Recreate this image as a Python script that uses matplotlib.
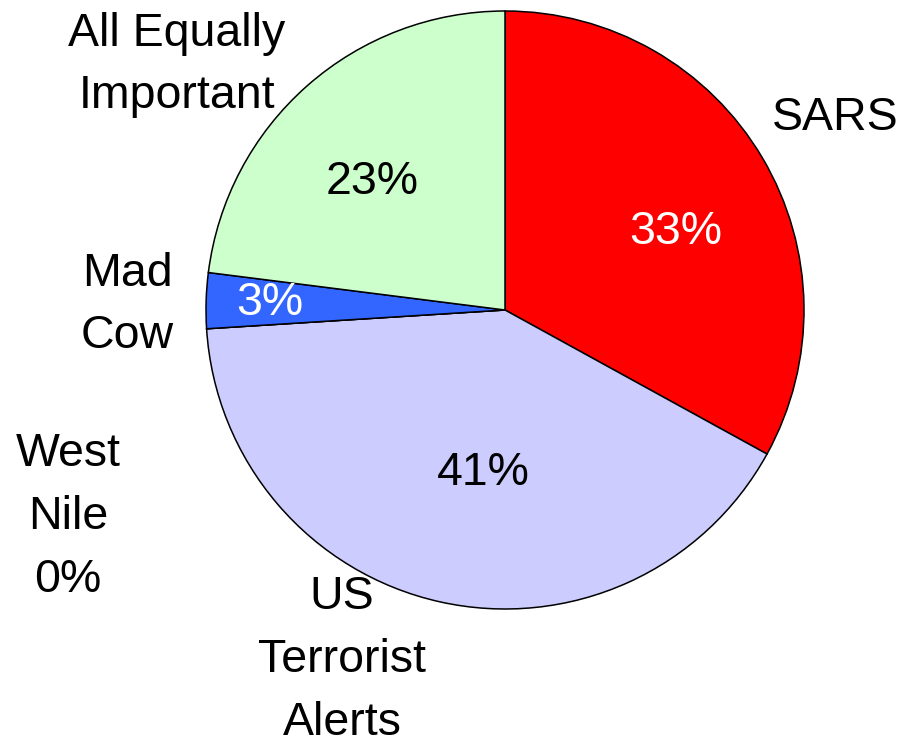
import matplotlib.pyplot as plt

plt.rcParams['font.family'] = ['Liberation Sans', 'DejaVu Sans']

# data
categories = ['SARS', 'US\nTerrorist\nAlerts', 'West\nNile', 'Mad\nCow', 'All Equally\nImportant']
shares = [33, 41, 0, 3, 23]
colors = ['#FF0000', '#CCCCFF', '#9999FF', '#3366FF', '#CCFFCC']
pct_colors = ['white', 'black', 'black', 'white', 'black']

# text placement (pie radius = 1, centre at 0,0)
name_pos = [(1.104, 0.642), (-0.545, -1.171), (-1.462, -0.692), (-1.264, 0.017), (-1.097, 0.819)]
pct_pos = [(0.572, 0.261), (-0.074, -0.545), None, (-0.786, 0.023), (-0.445, 0.428)]

fig = plt.figure(figsize=(9.02, 7.42), dpi=100)
ax = fig.add_axes([0, 0, 1, 1])
ax.pie(shares, colors=colors, startangle=90, counterclock=False, radius=1,
       wedgeprops=dict(edgecolor='black', linewidth=1.1))

fs = 33.5
ls = 1.55
for i, name in enumerate(categories):
    if pct_pos[i] is None:
        # slice too small, share goes with the name outside
        ax.text(*name_pos[i], name + '\n%d%%' % shares[i], ha='center', va='center',
                fontsize=fs, linespacing=ls)
        continue
    ax.text(*name_pos[i], name, ha='center', va='center', fontsize=fs, linespacing=ls)
    ax.text(*pct_pos[i], '%d%%' % shares[i], ha='center', va='center',
            fontsize=fs, color=pct_colors[i])

ax.set_xlim(-505 / 299, 397 / 299)
ax.set_ylim(-432 / 299, 310 / 299)
ax.set_aspect('equal')
ax.axis('off')
fig.savefig('out.png', dpi=100)
